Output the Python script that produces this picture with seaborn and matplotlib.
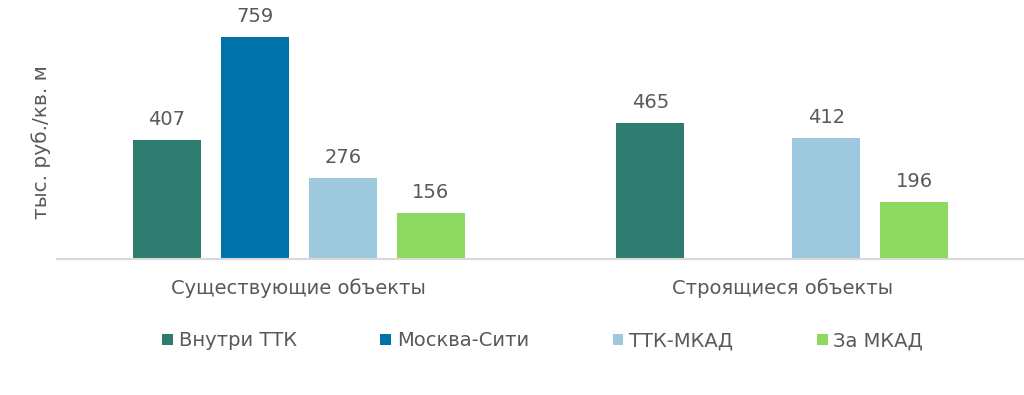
import numpy as np
import pandas as pd
import matplotlib
matplotlib.use("Agg")
import matplotlib.pyplot as plt
import seaborn as sns

categories = ["Существующие объекты", "Строящиеся объекты"]
series = ["Внутри ТТК", "Москва-Сити", "ТТК-МКАД", "За МКАД"]
values_existing = [407, 759, 276, 156]
values_building = [465, np.nan, 412, 196]
colors = ["#2E7B6F", "#0072AA", "#9DC8DE", "#8CD860"]
ylabel = "тыс. руб./кв. м"

rows = []
for s, v1, v2 in zip(series, values_existing, values_building):
    rows.append({"cat": categories[0], "series": s, "value": v1})
    rows.append({"cat": categories[1], "series": s, "value": v2})
df = pd.DataFrame(rows)

sns.set_theme(style="white")
plt.rcParams["font.family"] = ["DejaVu Sans"]
txt = "#595959"

fig = plt.figure(figsize=(10.24, 3.95), dpi=100)
ax = fig.add_axes([57/1024, 1 - 259/395, 1 - 57/1024, 259/395 - 25/395])

sns.barplot(data=df, x="cat", y="value", hue="series", order=categories,
            hue_order=series, palette=colors, width=0.728, gap=0.227,
            ax=ax, legend=True, saturation=1, edgecolor="none")

for cont in ax.containers:
    labels = ["" if np.isnan(b.get_height()) else f"{b.get_height():.0f}" for b in cont]
    ax.bar_label(cont, labels=labels, padding=8, fontsize=14, color=txt, clip_on=False)

ax.set_xlim(-0.5, 1.5)
ax.set_ylim(0, 800)
ax.set_yticks([])
ax.set_xlabel("")
ax.set_ylabel(ylabel, fontsize=14.5, color=txt, labelpad=4)
ax.tick_params(axis="x", labelsize=14, colors=txt, length=0, pad=14)
for side in ["top", "right", "left"]:
    ax.spines[side].set_visible(False)
ax.spines["bottom"].set_color("#D9D9D9")
ax.spines["bottom"].set_linewidth(1.5)

h, l = ax.get_legend_handles_labels()
ax.legend(h, l, loc="center", bbox_to_anchor=(0.53, (395 - 341) / 395), bbox_transform=fig.transFigure,
          ncol=4, frameon=False, fontsize=14, labelcolor=txt, handlelength=0.55, handleheight=0.55,
          handletextpad=0.3, columnspacing=4.3)

fig.savefig("out.png", dpi=100)
